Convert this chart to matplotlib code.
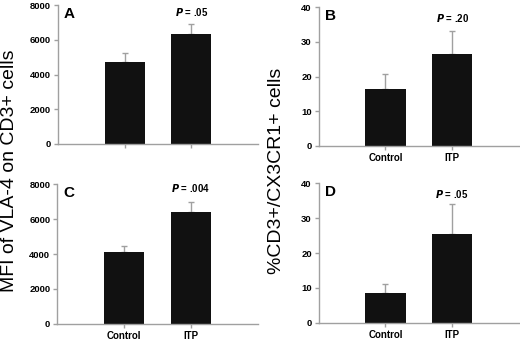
import matplotlib
matplotlib.use("Agg")
import matplotlib.pyplot as plt

plt.rcParams['font.family'] = ['Liberation Sans', 'DejaVu Sans']

groups = ['Control', 'ITP']

# panel values: bar means and upper error
a_means = [4700, 6350]
a_err = [550, 550]
b_means = [16.5, 26.5]
b_err = [4.3, 6.5]
c_means = [4100, 6400]
c_err = [350, 550]
d_means = [8.7, 25.5]
d_err = [2.5, 8.5]

mfi_ticks = [0, 2000, 4000, 6000, 8000]
pct_ticks = [0, 10, 20, 30, 40]

panels = [
    ('A', a_means, a_err, mfi_ticks, '.05', False),
    ('B', b_means, b_err, pct_ticks, '.20', True),
    ('C', c_means, c_err, mfi_ticks, '.004', True),
    ('D', d_means, d_err, pct_ticks, '.05', True),
]

positions = [
    [0.1115, 0.578, 0.385, 0.407],
    [0.613, 0.572, 0.385, 0.407],
    [0.110, 0.050, 0.386, 0.410],
    [0.613, 0.053, 0.385, 0.410],
]
p_ypos = [0.95, 0.92, 0.97, 0.92]

fig = plt.figure(figsize=(5.2, 3.41), dpi=100)
grey = '#a0a0a0'

for (letter, means, errs, yticks, pval, show_labels), pos, py in zip(panels, positions, p_ypos):
    ax = fig.add_axes(pos)
    x = [1, 2]
    ax.bar(x, means, width=0.6, color='#111111', zorder=2)
    ax.errorbar(x, means, yerr=[[0, 0], errs], fmt='none', ecolor=grey,
                elinewidth=1, capsize=2, capthick=1, zorder=1)
    ax.set_xlim(0, 3)
    ax.set_ylim(yticks[0], yticks[-1])
    ax.set_yticks(yticks)
    ax.set_yticklabels([str(t) for t in yticks], fontsize=6.8, fontweight='bold')
    ax.set_xticks(x)
    if show_labels:
        ax.set_xticklabels(groups, fontsize=7, fontweight='bold')
    else:
        ax.set_xticklabels(['', ''])
    for s in ['top', 'right']:
        ax.spines[s].set_visible(False)
    for s in ['left', 'bottom']:
        ax.spines[s].set_color(grey)
        ax.spines[s].set_linewidth(1)
    ax.tick_params(axis='both', colors=grey, length=3, width=1, labelcolor='black', pad=2)
    ax.text(0.03, 0.985, letter, transform=ax.transAxes, fontsize=11,
            fontweight='bold', va='top', ha='left')
    ax.text(2, yticks[-1] * py, r'$\bfit{P}$ = ' + pval, fontsize=7,
            fontweight='bold', ha='center', va='center')

fig.text(0.019, 0.50, 'MFI of VLA-4 on CD3+ cells', rotation=90, fontsize=14,
         ha='center', va='center')
fig.text(0.532, 0.50, '%CD3+/CX3CR1+ cells', rotation=90, fontsize=14,
         ha='center', va='center')

fig.savefig('out.png', dpi=100)
